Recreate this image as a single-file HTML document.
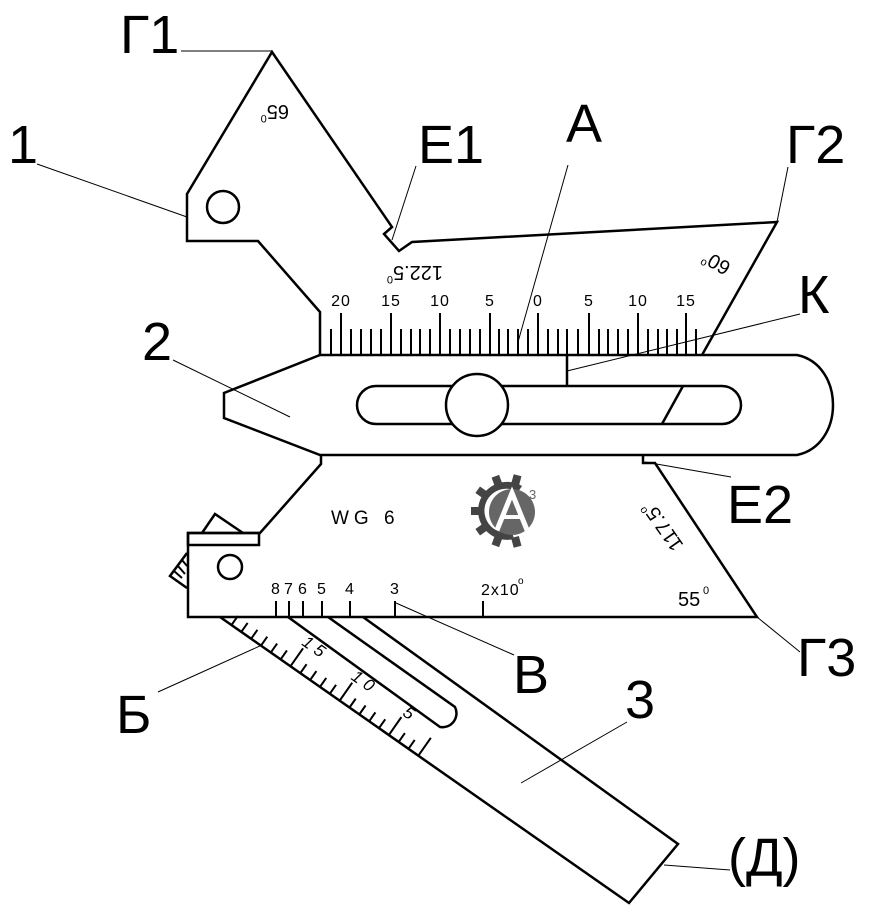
<!DOCTYPE html>
<html><head><meta charset="utf-8"><style>
html,body{margin:0;padding:0;background:#fff}
svg{display:block}
text{font-family:"Liberation Sans",Arial,sans-serif;fill:#000}
.big{font-size:54px}
</style></head><body>
<svg width="871" height="911" viewBox="0 0 871 911" xmlns="http://www.w3.org/2000/svg">
<g fill="none" stroke="#000" stroke-width="2.5" stroke-linejoin="miter">
<path d="M363,617 L678,844 L629,903 L220,617"/>
<path d="M288,617 L440,727 A14,14 0 0 0 455,707 L328,617"/>
<path d="M187,553 L170,576 L187,588"/>
<path d="M202,533 L215,514 L243,533"/>
<path d="M320,355 L320,312 L258,241 L187,241 L187,194 L272,52 L392,227 L384,234 L399,251 L412,242 L777,222 L702,355"/>
<circle cx="223" cy="207" r="16"/>
<path d="M320,355 L797,355 C845,365 845,445 797,455 L320,455 L224,418 L224,393 Z"/>
<path d="M376,386 L722,386 A19,19 0 0 1 722,424 L376,424 A19,19 0 0 1 376,386 Z"/>
<line x1="683" y1="386" x2="662" y2="424"/>
<circle cx="477" cy="405" r="31" fill="#fff"/>
<line x1="567" y1="355" x2="567" y2="386"/>
<path d="M321,455 L321,464 L260,533 L188,533 L188,617 L757,617 L655,463 L643,463 L643,455"/>
<rect x="188" y="533" width="71" height="12"/>
<circle cx="230" cy="567" r="12"/>
</g>
<g stroke="#000" stroke-width="2">
<line x1="174" y1="571" x2="182" y2="578"/><line x1="178" y1="566" x2="185" y2="574"/><line x1="182" y1="560" x2="187" y2="566"/>
</g>
<g stroke="#000" stroke-width="2">
<line x1="320" y1="355" x2="702" y2="355"/>
<line x1="331" y1="329" x2="331" y2="355"/><line x1="341" y1="313" x2="341" y2="355"/><line x1="351" y1="329" x2="351" y2="355"/><line x1="361" y1="329" x2="361" y2="355"/><line x1="371" y1="329" x2="371" y2="355"/><line x1="381" y1="329" x2="381" y2="355"/><line x1="391" y1="313" x2="391" y2="355"/><line x1="401" y1="329" x2="401" y2="355"/><line x1="411" y1="329" x2="411" y2="355"/><line x1="420" y1="329" x2="420" y2="355"/><line x1="430" y1="329" x2="430" y2="355"/><line x1="440" y1="313" x2="440" y2="355"/><line x1="450" y1="329" x2="450" y2="355"/><line x1="460" y1="329" x2="460" y2="355"/><line x1="470" y1="329" x2="470" y2="355"/><line x1="480" y1="329" x2="480" y2="355"/><line x1="490" y1="313" x2="490" y2="355"/><line x1="499" y1="329" x2="499" y2="355"/><line x1="508" y1="329" x2="508" y2="355"/><line x1="518" y1="329" x2="518" y2="355"/><line x1="528" y1="329" x2="528" y2="355"/><line x1="538" y1="313" x2="538" y2="355"/><line x1="548" y1="329" x2="548" y2="355"/><line x1="558" y1="329" x2="558" y2="355"/><line x1="567" y1="329" x2="567" y2="355"/><line x1="578" y1="329" x2="578" y2="355"/><line x1="589" y1="313" x2="589" y2="355"/><line x1="599" y1="329" x2="599" y2="355"/><line x1="608" y1="329" x2="608" y2="355"/><line x1="618" y1="329" x2="618" y2="355"/><line x1="628" y1="329" x2="628" y2="355"/><line x1="638" y1="313" x2="638" y2="355"/><line x1="648" y1="329" x2="648" y2="355"/><line x1="658" y1="329" x2="658" y2="355"/><line x1="667" y1="329" x2="667" y2="355"/><line x1="677" y1="329" x2="677" y2="355"/><line x1="686" y1="313" x2="686" y2="355"/><line x1="696" y1="329" x2="696" y2="355"/>
<line x1="276" y1="601" x2="276" y2="617"/><line x1="289" y1="601" x2="289" y2="617"/><line x1="303" y1="601" x2="303" y2="617"/><line x1="322" y1="601" x2="322" y2="617"/><line x1="350" y1="601" x2="350" y2="617"/><line x1="395" y1="601" x2="395" y2="617"/><line x1="483" y1="601" x2="483" y2="617"/>
</g>
<g transform="translate(220,617) rotate(35)" stroke="#000" stroke-width="2">
<line x1="14" y1="0" x2="14" y2="-11"/><line x1="26" y1="0" x2="26" y2="-11"/><line x1="38" y1="0" x2="38" y2="-11"/><line x1="50" y1="0" x2="50" y2="-11"/><line x1="62" y1="0" x2="62" y2="-11"/><line x1="74" y1="0" x2="74" y2="-11"/><line x1="86" y1="0" x2="86" y2="-22"/><line x1="98" y1="0" x2="98" y2="-11"/><line x1="110" y1="0" x2="110" y2="-11"/><line x1="122" y1="0" x2="122" y2="-11"/><line x1="134" y1="0" x2="134" y2="-11"/><line x1="146" y1="0" x2="146" y2="-22"/><line x1="158" y1="0" x2="158" y2="-11"/><line x1="170" y1="0" x2="170" y2="-11"/><line x1="182" y1="0" x2="182" y2="-11"/><line x1="194" y1="0" x2="194" y2="-11"/><line x1="206" y1="0" x2="206" y2="-22"/><line x1="218" y1="0" x2="218" y2="-11"/><line x1="230" y1="0" x2="230" y2="-11"/><line x1="242" y1="0" x2="242" y2="-22"/>
<text x="82" y="-24" font-size="17" font-style="italic" stroke="none">1 5</text>
<text x="142" y="-24" font-size="17" font-style="italic" stroke="none">1 0</text>
<text x="205" y="-24" font-size="17" font-style="italic" stroke="none">5</text>
</g>
<g stroke="#000" stroke-width="1">
<line x1="181" y1="51" x2="272" y2="51"/>
<line x1="37" y1="164" x2="187" y2="217"/>
<line x1="416" y1="166" x2="392" y2="240"/>
<line x1="568" y1="165" x2="518" y2="342"/>
<line x1="788" y1="167" x2="777" y2="222"/>
<line x1="800" y1="314" x2="567" y2="371"/>
<line x1="173" y1="360" x2="290" y2="417"/>
<line x1="731" y1="477" x2="645" y2="462"/>
<line x1="800" y1="652" x2="757" y2="617"/>
<line x1="514" y1="655" x2="396" y2="603"/>
<line x1="158" y1="692" x2="262" y2="645"/>
<line x1="627" y1="722" x2="521" y2="783"/>
<line x1="730" y1="870" x2="664" y2="865"/>
</g>
<text class="big" x="120" y="53">Г1</text>
<text class="big" x="8" y="163">1</text>
<text class="big" x="418" y="163">Е1</text>
<text class="big" x="566" y="142">А</text>
<text class="big" x="786" y="163">Г2</text>
<text class="big" x="798" y="313">К</text>
<text class="big" x="142" y="360">2</text>
<text class="big" x="727" y="523">Е2</text>
<text class="big" x="797" y="676">Г3</text>
<text class="big" x="513" y="693">В</text>
<text class="big" x="116" y="733">Б</text>
<text class="big" x="625" y="718">3</text>
<text class="big" x="728" y="876">(Д)</text>
<g text-anchor="middle" font-size="16" letter-spacing="1">
<text x="341" y="306">20</text><text x="391" y="306">15</text><text x="440" y="306">10</text><text x="490" y="306">5</text><text x="538" y="306">0</text><text x="589" y="306">5</text><text x="638" y="306">10</text><text x="686" y="306">15</text>
<text x="276" y="594">8</text><text x="289" y="594">7</text><text x="303" y="594">6</text><text x="322" y="594">5</text><text x="350" y="594">4</text><text x="395" y="594">3</text>
</g>
<text x="481" y="595" font-size="16" letter-spacing="1">2x10</text><text x="518" y="584" font-size="10">o</text>
<text x="331" y="524" font-size="19" letter-spacing="5">WG 6</text>
<text x="678" y="606" font-size="20">55</text><text x="703" y="594" font-size="11">0</text>
<text transform="translate(289,105) rotate(180)" font-size="20">65<tspan font-size="11" dy="-10">0</tspan></text>
<text transform="translate(443,266) rotate(180)" font-size="20">122.5<tspan font-size="11" dy="-10">0</tspan></text>
<text transform="translate(732,264) rotate(-150)" font-size="20">60<tspan font-size="11" dy="-10">o</tspan></text>
<text transform="translate(684,545) rotate(-125)" font-size="20">117.5<tspan font-size="11" dy="-10">o</tspan></text>
<g transform="translate(508,511)">
<g fill="#444">
<path d="M14,-25 A29,29 0 1 0 6,28 L4,21 A22,22 0 1 1 10,-19 Z"/>
<rect x="-4" y="-37" width="8" height="10" transform="rotate(-20)"/>
<rect x="-4" y="-37" width="8" height="10" transform="rotate(-55)"/>
<rect x="-4" y="-37" width="8" height="10" transform="rotate(-90)"/>
<rect x="-4" y="-37" width="8" height="10" transform="rotate(-125)"/>
<rect x="-4" y="-37" width="8" height="10" transform="rotate(-160)"/>
<rect x="-4" y="-37" width="8" height="10" transform="rotate(-195)"/>
<rect x="-4" y="-37" width="8" height="10" transform="rotate(15)"/>
</g>
<circle cx="4" cy="1" r="23" fill="#666"/>
<path d="M-11,19 L4,-18 L19,19" fill="none" stroke="#fff" stroke-width="5"/>
<line x1="-5" y1="6" x2="13" y2="6" stroke="#fff" stroke-width="4"/>
<text x="21" y="-12" font-size="13" style="fill:#666">3</text>
</g>
</svg>
</body></html>
